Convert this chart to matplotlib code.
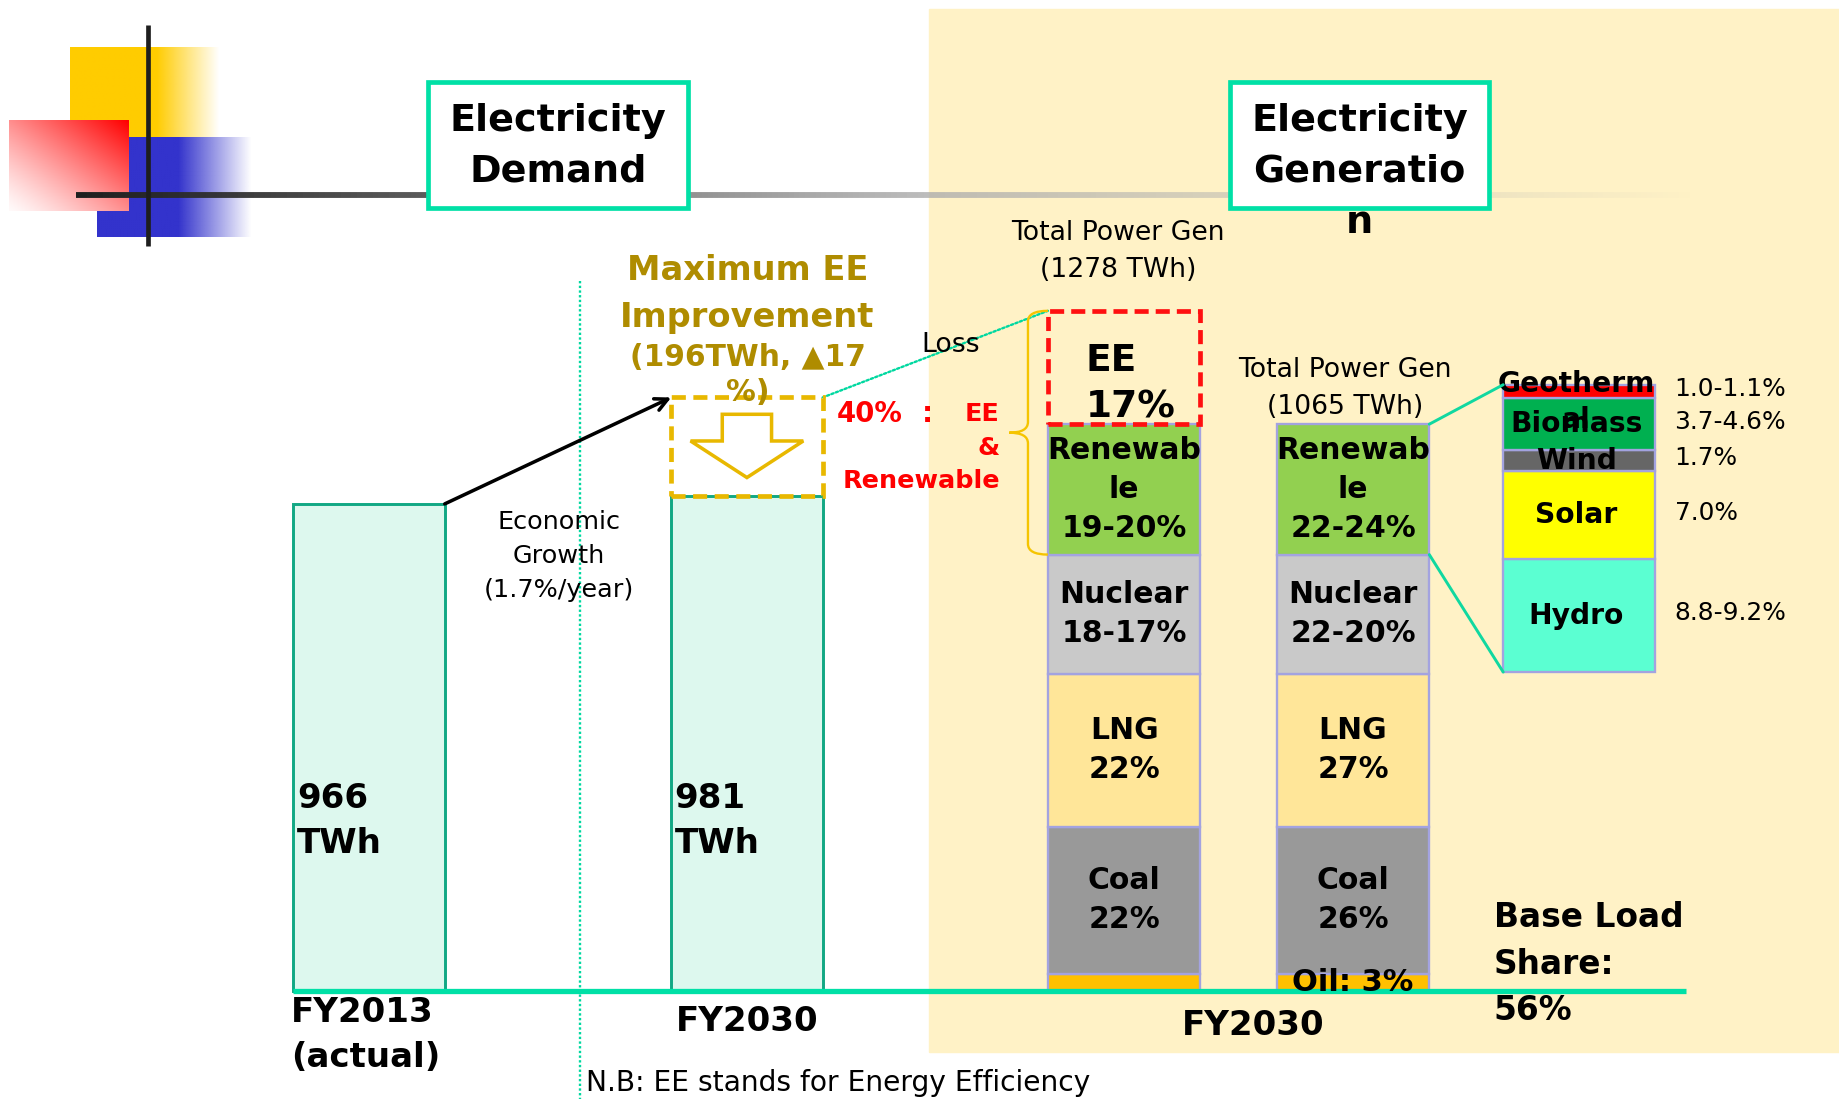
import matplotlib
matplotlib.use("Agg")
import matplotlib.pyplot as plt
import numpy as np
from matplotlib.collections import LineCollection
from matplotlib.patches import ConnectionPatch, PathPatch, Polygon, Rectangle
from matplotlib.path import Path

plt.rcParams["font.family"] = ["DejaVu Sans"]

# ---- data ----
demand_labels = ["FY2013\n(actual)", "FY2030"]
demand_twh = [966, 981]
ee_saving_twh = 196

gen_total_with_ee = 1278
gen_total = 1065
ee_share = 17
gen_sources = ["Oil", "Coal", "LNG", "Nuclear", "Renewable"]
gen_share = [3, 26, 27, 21, 23]  # % of 1065 TWh (range midpoints)
labels_with_ee = ["", "Coal\n22%", "LNG\n22%", "Nuclear\n18-17%", "Renewab\nle\n19-20%"]
labels_no_ee = ["Oil: 3%", "Coal\n26%", "LNG\n27%", "Nuclear\n22-20%", "Renewab\nle\n22-24%"]

renew_sources = ["Hydro", "Solar", "Wind", "Biomass", "Geotherm\nal"]
renew_share = [9.0, 7.0, 1.7, 4.15, 1.05]
renew_ranges = ["8.8-9.2%", "7.0%", "1.7%", "3.7-4.6%", "1.0-1.1%"]

# ---- styling ----
W, H = 1568, 937          # slide units
PT = 1840 / W * 72 / 100  # points per slide unit
BASE_Y = 845
TEAL = "#00E0A6"
GOLD_TXT = "#AF8C00"
GOLD = "#E8B800"
BEIGE = "#FFF2C6"
EDGE = "#A3A3E0"
gen_colors = ["#FFC000", "#999999", "#FFE699", "#C9C9C9", "#92D050"]
renew_colors = ["#5BFFD2", "#FFFF00", "#666666", "#00B050", "#FF0000"]

fig = plt.figure(figsize=(18.4, 10.99), dpi=100)


def layout_axes(z):
    a = fig.add_axes([0, 0, 1, 1], zorder=z)
    a.set_xlim(0, W)
    a.set_ylim(H, 0)
    a.axis("off")
    a.patch.set_visible(False)
    return a


def value_axes(base_y, px_per_unit, z):
    a = fig.add_axes([0, 0, 1, 1], zorder=z)
    a.set_xlim(0, W)
    a.set_ylim(-(H - base_y) / px_per_unit, base_y / px_per_unit)
    a.axis("off")
    a.patch.set_visible(False)
    return a


def txt(a, x, y, s, size, **kw):
    kw.setdefault("ha", "center")
    kw.setdefault("va", "center")
    return a.text(x, y, s, fontsize=size * PT, **kw)


def gradient_rect(a, x0, x1, y0, y1, rgba, z=2):
    a.imshow(rgba, extent=(x0, x1, y1, y0), aspect="auto",
             interpolation="bilinear", zorder=z)


ax = layout_axes(0)       # slide decoration
ax_top = layout_axes(10)  # free text above all bars

# ---- slide background & logo ----
ax.add_patch(Rectangle((792, 8), W - 792, 889, color=BEIGE, zorder=0))


def fade_h(color, n_solid, n_fade):
    rgb = matplotlib.colors.to_rgb(color)
    alpha = np.concatenate([np.ones(n_solid), np.linspace(1, 0, n_fade)])
    img = np.zeros((2, alpha.size, 4))
    img[..., :3] = rgb
    img[..., 3] = alpha
    return img


gradient_rect(ax, 60, 187, 41, 117, fade_h("#FFCC00", 73, 54))
gradient_rect(ax, 83, 215, 117, 202, fade_h("#3333CC", 69, 63))
gx, gy = np.meshgrid(np.linspace(0, 1, 60), np.linspace(0, 1, 60))
t = np.clip(0.02 + 0.98 * ((gx + (1 - gy)) / 2) ** 1.2, 0, 1)
red = np.ones((60, 60, 4))
red[..., 1] = 1 - t
red[..., 2] = 1 - t
gradient_rect(ax, 8, 110, 103, 180, red, z=3)

xs = np.linspace(65, 1440, 300)
segs = [[(xs[i], 166), (xs[i + 1], 166)] for i in range(len(xs) - 1)]
shade = np.interp(xs[:-1], [65, 360, 792, 1440], [0.12, 0.3, 0.68, 0.7])
alpha = np.interp(xs[:-1], [65, 792, 1440], [1.0, 0.8, 0.0])
cols = np.column_stack([shade, shade, shade, alpha])
ax.add_collection(LineCollection(segs, colors=cols, linewidths=5 * PT,
                                 zorder=4))
ax.plot([126, 126], [21, 210], color="#1E1E1E", lw=4 * PT, zorder=4,
        solid_capstyle="butt")

for x0, title in [(365, "Electricity\nDemand"),
                  (1048, "Electricity\nGeneratio\nn")]:
    ax.add_patch(Rectangle((x0, 70), 221, 107, facecolor="white",
                           edgecolor=TEAL, lw=4 * PT, zorder=5))
    nlines = title.count("\n") + 1
    txt(ax_top, x0 + 110.5, 103 + 43.5 * (nlines - 1) / 2, title, 32.5,
        fontweight="bold", linespacing=1.53)

ax.plot([494, 494], [240, H], color="#00D8A0", lw=2 * PT, ls=(0, (1, 1)),
        zorder=1)

# ---- demand side ----
K_D = 0.43
ax_d = value_axes(BASE_Y, K_D, 1)
dem_x = [250, 572]
bar_w = 129
ax_d.bar(dem_x, demand_twh, width=bar_w, align="edge", color="#DDF8EE",
         edgecolor="#12A884", lw=2.5 * PT)
for x, v in zip(dem_x, demand_twh):
    txt(ax_top, x + 3, 700, f"{v}\nTWh", 29, ha="left", fontweight="bold",
        linespacing=1.47)
txt(ax_top, dem_x[0] - 2, 849, demand_labels[0], 29, ha="left", va="top",
    fontweight="bold", linespacing=1.47)
txt(ax_top, dem_x[1] + bar_w / 2, 871, demand_labels[1], 29,
    fontweight="bold")

top_ee = demand_twh[1] + ee_saving_twh
ax_d.add_patch(Rectangle((dem_x[1], demand_twh[1]), bar_w, ee_saving_twh,
                         fill=False, edgecolor=GOLD, lw=4 * PT,
                         ls=(0, (3, 1.6)), zorder=4))
ax_d.annotate("", xy=(dem_x[1], top_ee),
              xytext=(dem_x[0] + bar_w, demand_twh[0]),
              arrowprops=dict(arrowstyle="->,head_length=0.9,head_width=0.45",
                              color="black", lw=3 * PT, shrinkA=0, shrinkB=0))

# hollow down arrow inside the saving box
cx = dem_x[1] + bar_w / 2
y_hi = demand_twh[1] + ee_saving_twh * 0.83
y_mid = demand_twh[1] + ee_saving_twh * 0.56
y_tip = demand_twh[1] + ee_saving_twh * 0.19
arrow_pts = [(cx - 21, y_hi), (cx + 21, y_hi), (cx + 21, y_mid),
             (cx + 48, y_mid), (cx, y_tip), (cx - 48, y_mid),
             (cx - 21, y_mid)]
ax_d.add_patch(Polygon(arrow_pts, closed=True, fill=False, edgecolor=GOLD,
                       lw=3 * PT, zorder=4))

txt(ax_top, 637, 250.5, "Maximum EE\nImprovement", 28.7, color=GOLD_TXT,
    fontweight="bold", linespacing=1.53)
txt(ax_top, 637, 305, "(196TWh, \u25b217", 25.3, color=GOLD_TXT,
    fontweight="bold")
txt(ax_top, 637, 335, "%)", 25.3, color=GOLD_TXT, fontweight="bold")
txt(ax_top, 476, 474, "Economic\nGrowth\n(1.7%/year)", 21.7,
    linespacing=1.55)
txt(ax_top, 810, 294, "Loss", 22.7)
txt(ax_top, 713, 353, "40%", 23.5, ha="left", color="red", fontweight="bold")
txt(ax_top, 790, 353, ":", 23.5, color="red", fontweight="bold")
for y, s in [(353, "EE"), (382, "&"), (410, "Renewable")]:
    txt(ax_top, 852, y, s, 21.7, ha="right", color="red", fontweight="bold")

# ---- generation side ----
K_G = 580 / gen_total_with_ee
ax_g = value_axes(BASE_Y, K_G, 2)
gen_x = [893, 1088]
gw = 130
gen_twh = [s * gen_total / 100 for s in gen_share]
bottoms = np.concatenate([[0], np.cumsum(gen_twh)[:-1]])
for x, labels in zip(gen_x, [labels_with_ee, labels_no_ee]):
    ax_g.bar([x] * len(gen_twh), gen_twh, bottom=bottoms, width=gw,
             align="edge", color=gen_colors, edgecolor=EDGE, lw=2 * PT)
    for b, h, lab in zip(bottoms, gen_twh, labels):
        if lab and not lab.startswith("Oil"):
            txt(ax_g, x + gw / 2, b + h / 2, lab, 25.5, fontweight="bold",
                linespacing=1.43, zorder=6)
txt(ax_g, gen_x[1] + gw / 2, gen_twh[0] / 2, labels_no_ee[0], 26,
    fontweight="bold", zorder=7)

ee_twh = gen_total_with_ee - gen_total
ax_g.add_patch(Rectangle((gen_x[0], gen_total), gw, ee_twh, fill=False,
                         edgecolor="#FF1010", lw=4 * PT, ls=(0, (3, 1.5)),
                         zorder=4))
txt(ax_g, gen_x[0] + 32, gen_total + ee_twh * 0.35, f"EE\n{ee_share}%", 32,
    ha="left", fontweight="bold", linespacing=1.37)

txt(ax_top, 953, 214.5, f"Total Power Gen\n({gen_total_with_ee} TWh)", 22.7,
    linespacing=1.53)
txt(ax_top, 1146, 331, f"Total Power Gen\n({gen_total} TWh)", 22.7,
    linespacing=1.53)

# curly brace grouping EE and renewables
y_top = gen_total_with_ee
y_bot = sum(gen_twh[:4])
y_mid = (y_top + y_bot) / 2
xr, xm, xt, r = gen_x[0], gen_x[0] - 17, gen_x[0] - 33, 20
brace = Path([(xr, y_top), (xm, y_top), (xm, y_top - r), (xm, y_mid + r),
              (xm, y_mid), (xt, y_mid), (xm, y_mid), (xm, y_mid - r),
              (xm, y_bot + r), (xm, y_bot), (xr, y_bot)],
             [Path.MOVETO, Path.CURVE3, Path.CURVE3, Path.LINETO,
              Path.CURVE3, Path.CURVE3, Path.CURVE3, Path.CURVE3,
              Path.LINETO, Path.CURVE3, Path.CURVE3])
ax_g.add_patch(PathPatch(brace, fill=False, edgecolor="#F5C400",
                         lw=2 * PT, zorder=4))

ax_g.plot([250, 1437], [0, 0], color=TEAL, lw=4.5 * PT, zorder=5,
          solid_capstyle="butt")
txt(ax_top, 1068, 874, "FY2030", 29, fontweight="bold")
txt(ax_top, 1273, 822, "Base Load\nShare:\n56%", 28, ha="left",
    fontweight="bold", linespacing=1.52)

# loss connector from the saving box to the EE block
fig.add_artist(ConnectionPatch(
    xyA=(dem_x[1] + bar_w, top_ee), coordsA=ax_d.transData,
    xyB=(gen_x[0], gen_total_with_ee), coordsB=ax_g.transData,
    color="#00D8A0", lw=2 * PT, ls=(0, (1, 1)), zorder=1))

# ---- renewable breakdown ----
K_R = 245 / sum(renew_share)
R_BASE = 573
ax_r = value_axes(R_BASE, K_R, 3)
rx, rw = 1281, 129
r_bottoms = np.concatenate([[0], np.cumsum(renew_share)[:-1]])
ax_r.bar([rx] * len(renew_share), renew_share, bottom=r_bottoms, width=rw,
         align="edge", color=renew_colors, edgecolor=EDGE, lw=2 * PT)
for b, h, name, rng in zip(r_bottoms, renew_share, renew_sources,
                           renew_ranges):
    yc = b + h / 2
    if "\n" in name:
        yc -= 9 / K_R
    txt(ax_r, rx + rw / 2 - 2, yc, name, 24, fontweight="bold",
        linespacing=1.36, zorder=6)
    txt(ax_r, 1427, b + h / 2 + 2 / K_R, rng, 21.2, ha="left")

ren_lo, ren_hi = sum(gen_twh[:4]), sum(gen_twh)
for yg, yr in [(ren_hi, sum(renew_share)), (ren_lo, 0)]:
    fig.add_artist(ConnectionPatch(
        xyA=(gen_x[1] + gw, yg), coordsA=ax_g.transData,
        xyB=(rx, yr), coordsB=ax_r.transData,
        color="#10D8A0", lw=2.5 * PT, zorder=4))

txt(ax_top, 499, 923, "N.B: EE stands for Energy Efficiency", 24, ha="left")

fig.savefig("out.png", dpi=100)
